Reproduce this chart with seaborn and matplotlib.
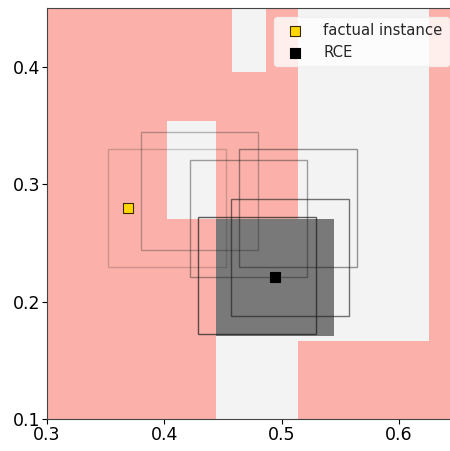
import matplotlib
matplotlib.use("Agg")
import matplotlib.pyplot as plt
import matplotlib.patches as mpatches
import seaborn as sns
import pandas as pd

# background regions of the "other class" (light gray) on salmon background
gray_x0 = [0.4577, 0.402, 0.5137, 0.444]
gray_x1 = [0.4864, 0.444, 0.6257, 0.5137]
gray_y0 = [0.396, 0.2705, 0.1665, 0.09]
gray_y1 = [0.46, 0.354, 0.46, 0.2705]

# robust region (filled dark box)
dark_x = [0.444, 0.5449]
dark_y = [0.1708, 0.2705]

# outline boxes (centers), all width/height ~0.1
box_cx = [0.4025, 0.4303, 0.4720, 0.5140, 0.5070, 0.4793]
box_cy = [0.2799, 0.2943, 0.2708, 0.2800, 0.2377, 0.2221]
box_w = [0.1003, 0.0997, 0.0997, 0.1000, 0.1009, 0.1006]
box_h = [0.1001, 0.1003, 0.1000, 0.1004, 0.0998, 0.0997]
box_alpha = [0.2, 0.3, 0.4, 0.45, 0.6, 0.7]

# points
labels = ["factual instance", "RCE"]
pt_x = [0.3693, 0.4944]
pt_y = [0.2801, 0.2211]
pt_face = ["#ffd700", "black"]
pt_edge = ["#3a2a00", "black"]

sns.set_style("white")
plt.rcParams["font.family"] = ["DejaVu Sans"]

fig = plt.figure(figsize=(4.5, 4.51), dpi=100)
ax = fig.add_axes([47 / 450, (451 - 419) / 451, (457.5 - 47) / 450, (419 - 8) / 451])
ax.set_facecolor("#fbb1aa")

for x0, x1, y0, y1 in zip(gray_x0, gray_x1, gray_y0, gray_y1):
    ax.add_patch(mpatches.Rectangle((x0, y0), x1 - x0, y1 - y0,
                                    facecolor="#f3f3f3", edgecolor="none", zorder=1))

ax.add_patch(mpatches.Rectangle((dark_x[0], dark_y[0]), dark_x[1] - dark_x[0],
                                dark_y[1] - dark_y[0], facecolor="#797979",
                                edgecolor="none", zorder=2))

for cx, cy, w, h, a in zip(box_cx, box_cy, box_w, box_h, box_alpha):
    ax.add_patch(mpatches.Rectangle((cx - w / 2, cy - h / 2), w, h, facecolor="none",
                                    edgecolor=(0.1, 0.1, 0.1, a), linewidth=1.0, zorder=3))

for lab, x, y, fc, ec in zip(labels, pt_x, pt_y, pt_face, pt_edge):
    df = pd.DataFrame({"x": [x], "y": [y]})
    sns.scatterplot(data=df, x="x", y="y", marker="s", s=60, color=fc,
                    edgecolor=ec, linewidth=0.8, ax=ax, zorder=5, label=lab)

ax.set_xlim(0.3, 0.65)
ax.set_ylim(0.1, 0.4504)
ax.set_xticks([0.3, 0.4, 0.5, 0.6])
ax.set_yticks([0.1, 0.2, 0.3, 0.4])
ax.set_xticklabels(["0.3", "0.4", "0.5", "0.6"])
ax.set_yticklabels(["0.1", "0.2", "0.3", "0.4"])
ax.set_xlabel("")
ax.set_ylabel("")
ax.tick_params(axis="both", labelsize=12.5, length=3.5, width=0.8, colors="black",
               direction="out", bottom=True, left=True, pad=1.5)
for s in ax.spines.values():
    s.set_color("#444444")
    s.set_linewidth(0.8)

leg = ax.legend(loc="upper right", fontsize=10.7, frameon=True, framealpha=0.8,
                handletextpad=0.9, borderaxespad=0.6, markerscale=0.85)
leg.get_frame().set_edgecolor("#f0f0f0")
leg.get_frame().set_facecolor("white")

fig.savefig("out.png", dpi=100)
